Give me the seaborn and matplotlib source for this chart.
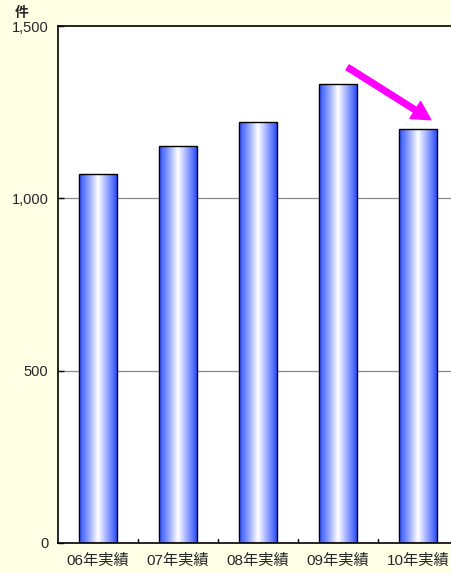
import numpy as np
import pandas as pd
import matplotlib
matplotlib.use("Agg")
import matplotlib.pyplot as plt
from matplotlib.colors import LinearSegmentedColormap
import seaborn as sns

categories = ["06年実績", "07年実績", "08年実績", "09年実績", "10年実績"]
values = [1070, 1152, 1221, 1332, 1201]
y_ticks = [0, 500, 1000, 1500]
y_tick_labels = ["0", "500", "1,000", "1,500"]

sns.set_theme(style="white")
plt.rcParams["font.family"] = ["Liberation Sans", "Noto Sans CJK JP", "DejaVu Sans"]

bg = "#FFFFE6"
fig = plt.figure(figsize=(4.52, 5.73), dpi=100, facecolor=bg)
ax = fig.add_axes([58 / 452, 30 / 573, 400 / 452, 517 / 573])
ax.set_facecolor("white")

df = pd.DataFrame({"category": categories, "value": values})
sns.barplot(data=df, x="category", y="value", ax=ax, width=0.475,
            color="#4466ff", edgecolor="black", linewidth=1.0, saturation=1)

ax.set_ylim(0, 1500)
ax.set_xlim(-0.5, len(categories) - 0.5)
ax.set_yticks(y_ticks)
ax.set_yticklabels(y_tick_labels)
ax.set_xlabel("")
ax.set_ylabel("")

# horizontal gradient fill: blue at edges, white in the middle
cmap = LinearSegmentedColormap.from_list(
    "bar", ["#2a4cff", "#8ea2ff", "#ffffff", "#98a8ff", "#2a4cff"])
grad = np.linspace(0, 1, 256).reshape(1, -1)
for patch in ax.patches:
    x0, y0 = patch.get_x(), patch.get_y()
    w, h = patch.get_width(), patch.get_height()
    patch.set_facecolor("none")
    im = ax.imshow(grad, cmap=cmap, aspect="auto",
                   extent=[x0, x0 + w, y0, y0 + h], zorder=patch.get_zorder() - 0.1,
                   interpolation="bilinear")
    im.set_clip_path(patch)
ax.set_xlim(-0.5, len(categories) - 0.5)
ax.set_ylim(0, 1500)

# grid at 500 and 1000
for yv in [500, 1000]:
    ax.axhline(yv, color="#888888", linewidth=0.9, zorder=0.5)

for s in ["left", "bottom", "top", "right"]:
    ax.spines[s].set_visible(True)
    ax.spines[s].set_color("black")
    ax.spines[s].set_linewidth(1.2)

ax.tick_params(axis="y", direction="in", length=4, width=1, color="black",
               labelsize=10.5, pad=7, left=True)
ax.tick_params(axis="x", length=0, labelsize=11, pad=8)
for xb in np.arange(0.5, len(categories) - 0.5, 1):
    ax.plot([xb, xb], [0, 12], color="black", linewidth=1, zorder=3)

fig.text(22 / 452, 1 - 13 / 573, "件", fontsize=10, ha="center", va="center",
         family=["Noto Sans CJK JP"], fontweight="bold")

ax.annotate("", xy=(4.16, 1228), xytext=(3.12, 1380),
            arrowprops=dict(arrowstyle="simple,head_length=1.1,head_width=1.2,tail_width=0.35",
                            color="#ff00ff", shrinkA=0, shrinkB=0),
            zorder=5)

fig.savefig("out.png", dpi=100, facecolor=bg)
